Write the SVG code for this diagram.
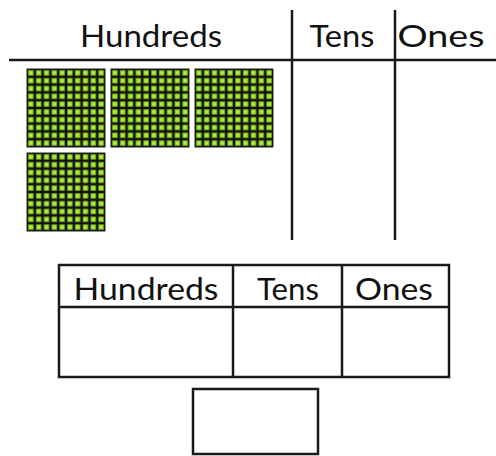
<svg xmlns="http://www.w3.org/2000/svg" width="496" height="456" viewBox="0 0 496 456">
<style>
.ln{stroke:#1a1a1a;stroke-width:2.5;fill:none}
.t{font-family:Lato,"Open Sans",sans-serif;font-size:31px;fill:#111}
.blk{fill:url(#grid);stroke:#222;stroke-width:1}
</style>
<defs>
<pattern id="grid" x="0" y="0" width="7.8" height="7.8" patternUnits="userSpaceOnUse">
<rect width="7.8" height="7.8" fill="#111"/>
<rect x="1.2" y="1.2" width="5.4" height="5.4" fill="#7cc018"/>
<rect x="2.2" y="2.2" width="3.4" height="3.4" fill="#b2f040"/>
</pattern>
</defs>
<g id="top-chart">
<line class="ln" x1="9" y1="60" x2="496" y2="60"/>
<line class="ln" x1="292" y1="10" x2="292" y2="240"/>
<line class="ln" x1="395" y1="10" x2="395" y2="240"/>
<text class="t" x="151" y="47" text-anchor="middle" textLength="142" lengthAdjust="spacingAndGlyphs">Hundreds</text>
<text class="t" x="342" y="47" text-anchor="middle" textLength="65" lengthAdjust="spacingAndGlyphs">Tens</text>
<text class="t" x="441" y="47" text-anchor="middle" textLength="87" lengthAdjust="spacingAndGlyphs">Ones</text>
</g>
<g id="blocks">
<g transform="translate(27,69)"><rect class="blk" width="78" height="78"/></g>
<g transform="translate(111,69)"><rect class="blk" width="78" height="78"/></g>
<g transform="translate(195,69)"><rect class="blk" width="78" height="78"/></g>
<g transform="translate(27,153)"><rect class="blk" width="78" height="78"/></g>
</g>
<g id="bottom-table">
<rect class="ln" x="59" y="265" width="390" height="112"/>
<line class="ln" x1="59" y1="307" x2="449" y2="307"/>
<line class="ln" x1="233" y1="265" x2="233" y2="377"/>
<line class="ln" x1="342" y1="265" x2="342" y2="377"/>
<text class="t" x="146" y="300" text-anchor="middle" textLength="145" lengthAdjust="spacingAndGlyphs">Hundreds</text>
<text class="t" x="288" y="300" text-anchor="middle" textLength="62" lengthAdjust="spacingAndGlyphs">Tens</text>
<text class="t" x="394" y="300" text-anchor="middle" textLength="78" lengthAdjust="spacingAndGlyphs">Ones</text>
</g>
<g id="answer-box">
<rect class="ln" x="193" y="389" width="125" height="65"/>
</g>
</svg>
